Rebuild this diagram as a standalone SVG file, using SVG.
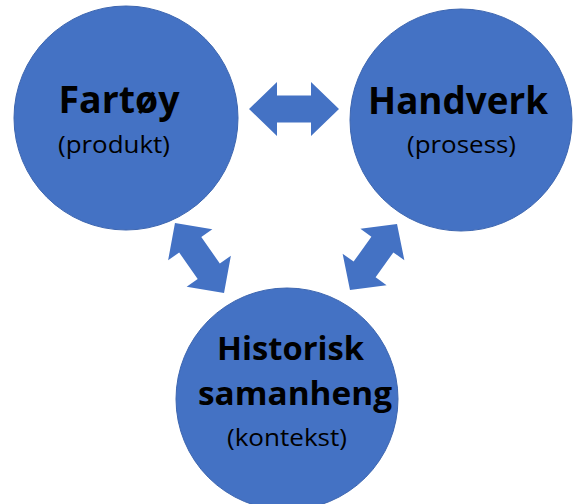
<svg xmlns="http://www.w3.org/2000/svg" width="573" height="504" viewBox="0 0 573 504">
<style>
.node{fill:#4472C4;stroke:#3d66b0;stroke-width:1}
.arrow{fill:#4472C4}
.t{font-family:"Open Sans","Liberation Sans",sans-serif;font-weight:bold;font-size:38px;fill:#000;text-anchor:middle}
.t2{font-family:"Open Sans","Liberation Sans",sans-serif;font-weight:bold;font-size:33px;fill:#000;text-anchor:middle}
.s{font-family:"Open Sans","Liberation Sans",sans-serif;font-size:23px;fill:#000;text-anchor:middle}
</style>
<defs>
<path id="dbl" d="M-45,0 L-17,-27 L-17,-13.5 L17,-13.5 L17,-27 L45,0 L17,27 L17,13.5 L-17,13.5 L-17,27 Z"/>
</defs>
<rect width="573" height="504" fill="#fff"/>
<g id="connectors">
<use href="#dbl" class="arrow" transform="translate(294,109)"/>
<use href="#dbl" class="arrow" transform="translate(199.5,258) rotate(55) scale(0.95,1)"/>
<use href="#dbl" class="arrow" transform="translate(373.5,257) rotate(125.5) scale(0.9,1)"/>
</g>
<g id="node-fartoy">
<circle class="node" cx="126" cy="118" r="112"/>
<text class="t" x="119" y="113" textLength="121" lengthAdjust="spacingAndGlyphs">Fartøy</text>
<text class="s" x="114" y="153" textLength="112" lengthAdjust="spacingAndGlyphs">(produkt)</text>
</g>
<g id="node-handverk">
<circle class="node" cx="461" cy="120" r="111"/>
<text class="t" x="458" y="114" textLength="180" lengthAdjust="spacingAndGlyphs">Handverk</text>
<text class="s" x="461.5" y="153" textLength="109" lengthAdjust="spacingAndGlyphs">(prosess)</text>
</g>
<g id="node-historisk">
<circle class="node" cx="287" cy="399" r="111"/>
<text class="t2" x="290.5" y="360" textLength="147" lengthAdjust="spacingAndGlyphs">Historisk</text>
<text class="t2" x="295" y="405" textLength="194" lengthAdjust="spacingAndGlyphs">samanheng</text>
<text class="s" x="287" y="446" textLength="120" lengthAdjust="spacingAndGlyphs">(kontekst)</text>
</g>
</svg>
